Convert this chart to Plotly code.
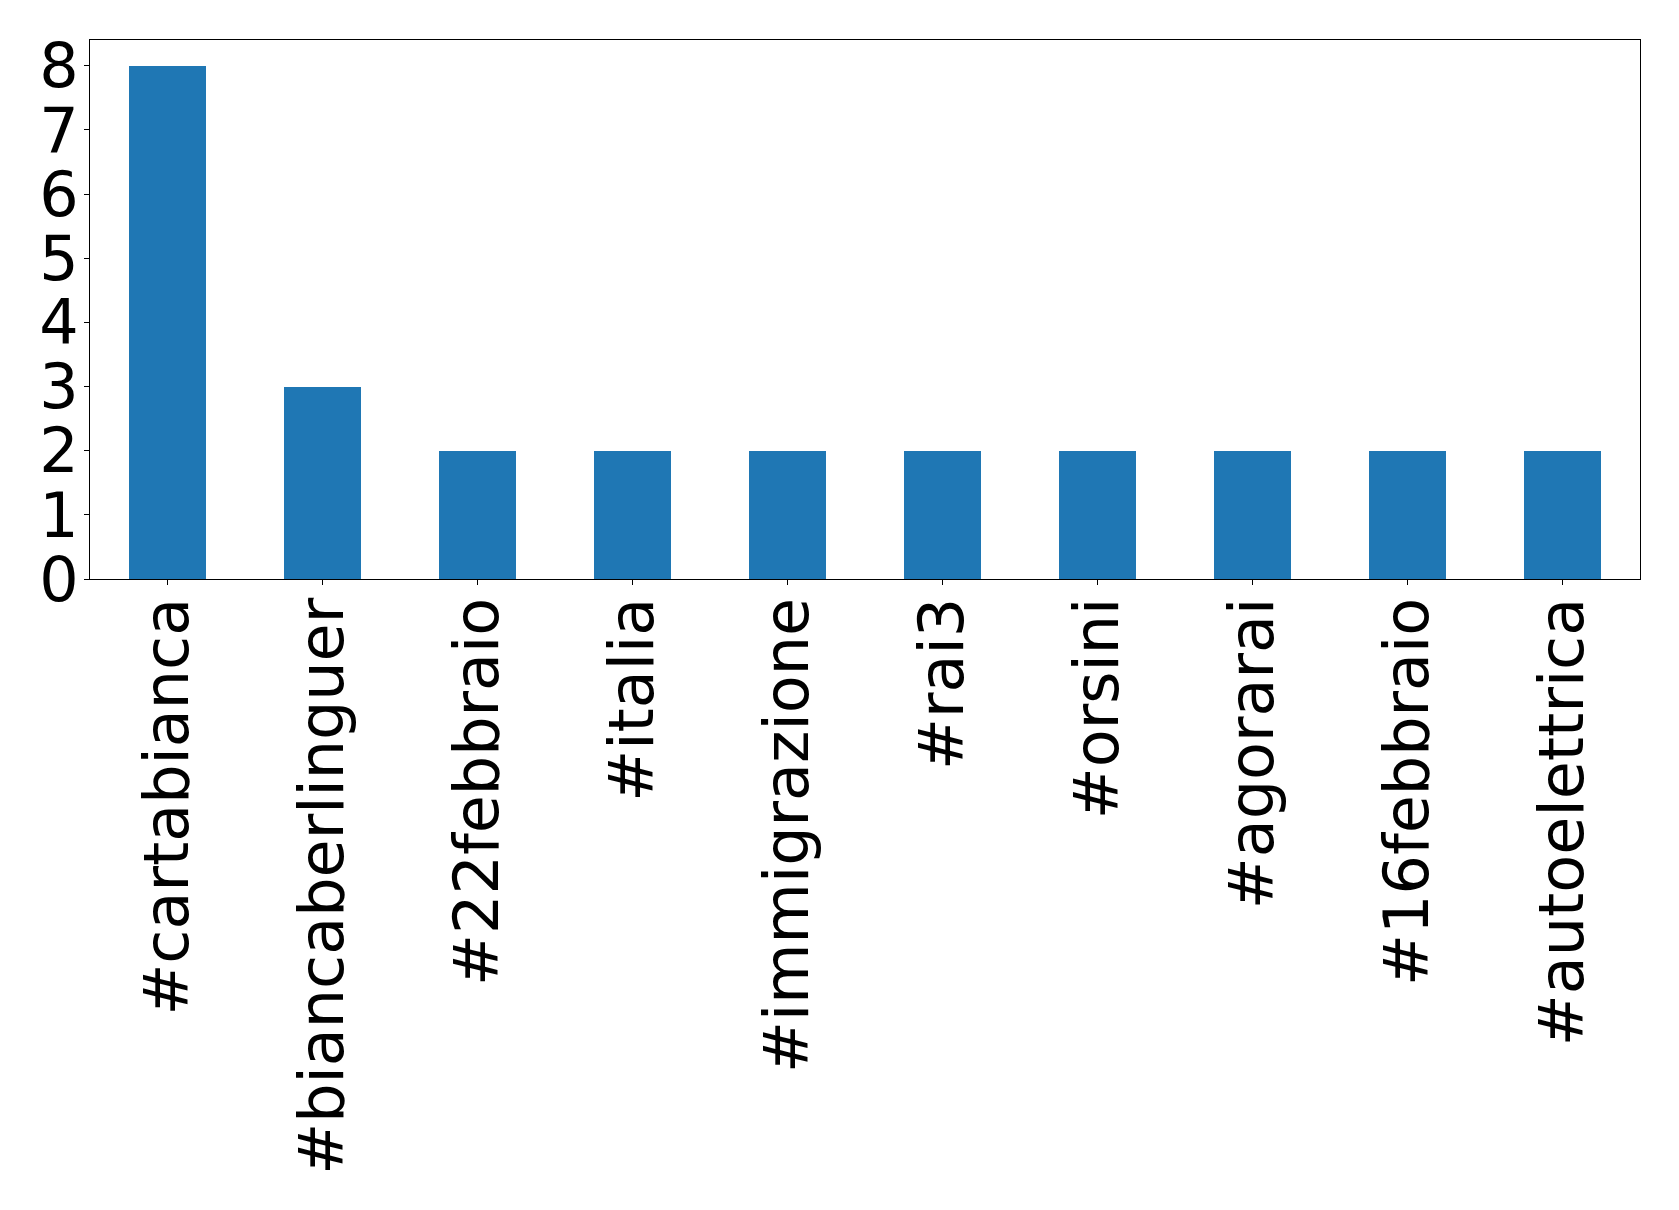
import plotly.graph_objects as go

hashtags = ["#cartabianca", "#biancaberlinguer", "#22febbraio", "#italia",
            "#immigrazione", "#rai3", "#orsini", "#agorarai", "#16febbraio",
            "#autoelettrica"]
counts = [8, 3, 2, 2, 2, 2, 2, 2, 2, 2]
y_ticks = [0, 1, 2, 3, 4, 5, 6, 7, 8]

fig = go.Figure(go.Bar(x=hashtags, y=counts, width=0.5,
                       marker=dict(color="#1f77b4", line=dict(width=0))))

font = dict(family="DejaVu Sans", size=62, color="black")
fig.update_layout(
    width=1679, height=1210,
    margin=dict(l=82, r=47, t=32, b=639, pad=0),
    paper_bgcolor="white", plot_bgcolor="white",
    showlegend=False, bargap=0,
    font=font,
)
fig.update_xaxes(range=[-0.5, 9.5], tickangle=-90, tickfont=font,
                 showline=True, mirror=True, linecolor="black", linewidth=1,
                 ticks="outside", ticklen=5, tickwidth=1, tickcolor="black",
                 showgrid=False, zeroline=False, ticklabelstandoff=-12)
fig.update_yaxes(range=[0, 8.4], tickvals=y_ticks, tickfont=font,
                 showline=True, mirror=True, linecolor="black", linewidth=1,
                 ticks="outside", ticklen=5, tickwidth=1, tickcolor="black",
                 showgrid=False, zeroline=False, ticklabelstandoff=-7)

fig.write_html("out.html")
